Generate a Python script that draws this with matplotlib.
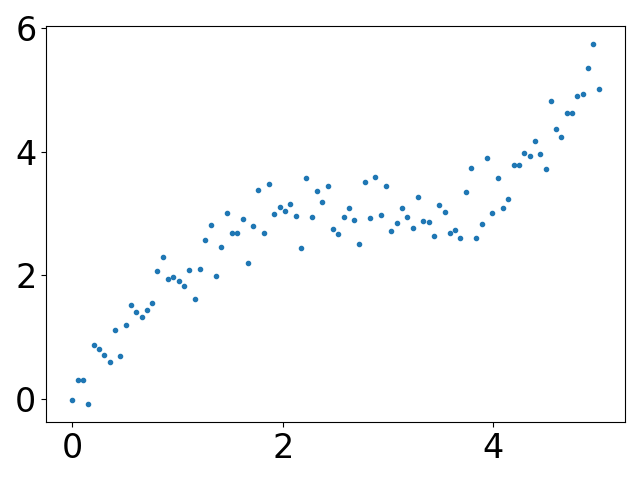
import numpy as np
import matplotlib
matplotlib.use("Agg")
import matplotlib.pyplot as plt

x = np.linspace(0, 5, 100)
y = [
    -0.02, 0.30, 0.30, -0.086, 0.87, 0.805, 0.708, 0.595, 1.113, 0.692,
    1.194, 1.519, 1.405, 1.324, 1.438, 1.551, 2.07, 2.297, 1.94, 1.972,
    1.908, 1.827, 2.086, 1.616, 2.102, 2.572, 2.815, 1.989, 2.459, 3.01,
    2.686, 2.686, 2.912, 2.199, 2.799, 3.382, 2.686, 3.48, 2.993, 3.107,
    3.042, 3.156, 2.961, 2.442, 3.577, 2.945, 3.366, 3.188, 3.447, 2.75,
    2.669, 2.945, 3.09, 2.896, 2.507, 3.512, 2.929, 3.593, 2.977, 3.447,
    2.718, 2.848, 3.09, 2.945, 2.767, 3.269, 2.88, 2.864, 2.637, 3.139,
    3.026, 2.686, 2.734, 2.605, 3.35, 3.739, 2.605, 2.831, 3.901, 3.01,
    3.577, 3.09, 3.237, 3.788, 3.788, 3.982, 3.934, 4.177, 3.966, 3.723,
    4.825, 4.371, 4.241, 4.63, 4.63, 4.906, 4.938, 5.36, 5.749, 5.012,
]

fig, ax = plt.subplots(figsize=(6.4, 4.8), dpi=100)
ax.plot(x, y, '.', color='#1f77b4')
ax.set_xticks([0, 2, 4])
ax.set_yticks([0, 2, 4, 6])
ax.tick_params(labelsize=24)
fig.tight_layout()
fig.savefig('out.png')
